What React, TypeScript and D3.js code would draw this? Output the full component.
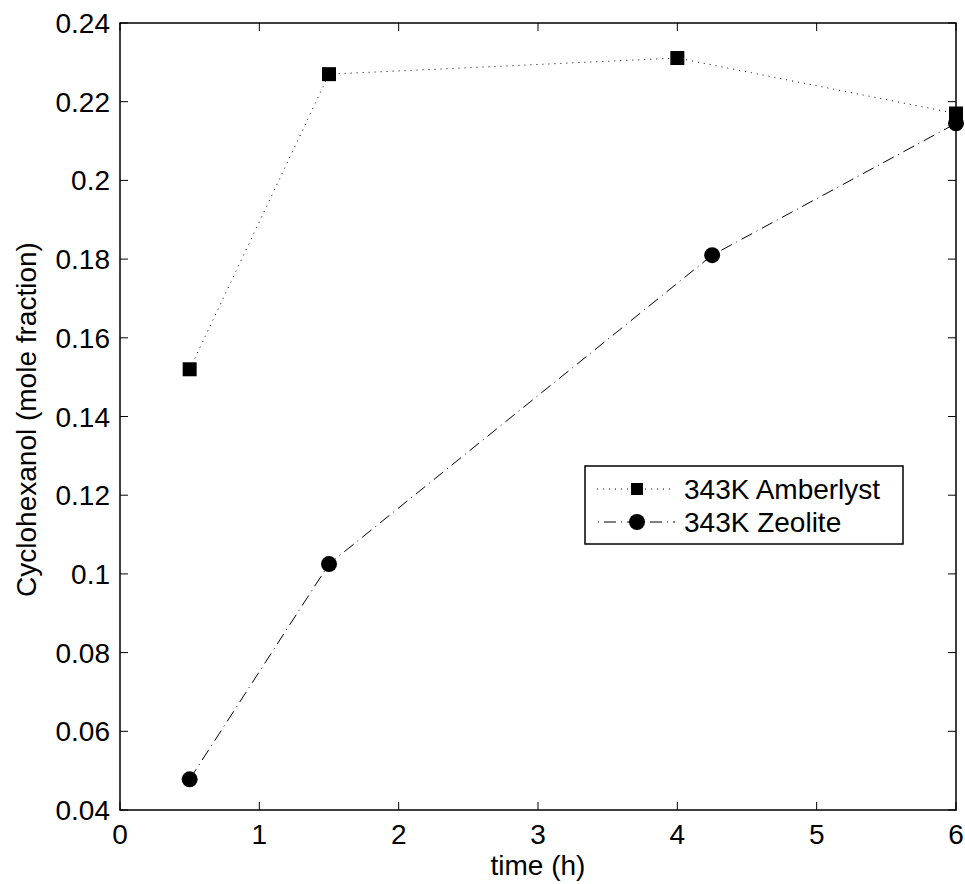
import React, { useEffect, useRef } from "react";
import * as d3 from "d3";

const amberTime = [0.5, 1.5, 4, 6];
const amberValues = [0.152, 0.227, 0.2311, 0.217];
const zeoTime = [0.5, 1.5, 4.25, 6];
const zeoValues = [0.0478, 0.1025, 0.181, 0.2145];
const xTicks = [0, 1, 2, 3, 4, 5, 6];
const yTicks = [0.04, 0.06, 0.08, 0.1, 0.12, 0.14, 0.16, 0.18, 0.2, 0.22, 0.24];
const seriesNames = ["343K Amberlyst", "343K Zeolite"];

const App = () => {
  const ref = useRef<SVGSVGElement>(null);

  useEffect(() => {
    const width = 965;
    const height = 884;
    const margin = { top: 23, right: 8, bottom: 74, left: 120 };
    const font = "Liberation Sans, Arial, Helvetica, sans-serif";
    const fs = "28px";

    const svg = d3.select(ref.current);
    svg.selectAll("*").remove();
    svg.attr("width", width).attr("height", height);

    const x = d3.scaleLinear().domain([0, 6]).range([margin.left, width - margin.right - 1]);
    const y = d3.scaleLinear().domain([0.04, 0.24]).range([height - margin.bottom, margin.top]);

    const fmt = (v: number) => String(+v.toFixed(2));

    // box
    svg.append("rect").attr("x", x(0)).attr("y", y(0.24))
      .attr("width", x(6) - x(0)).attr("height", y(0.04) - y(0.24))
      .attr("fill", "none").attr("stroke", "black").attr("stroke-width", 1.5);

    // inward ticks on all four sides
    const tl = 8;
    const ax = svg.append("g").attr("stroke", "black").attr("stroke-width", 1);
    xTicks.forEach(t => {
      ax.append("line").attr("x1", x(t)).attr("x2", x(t)).attr("y1", y(0.04)).attr("y2", y(0.04) - tl);
      ax.append("line").attr("x1", x(t)).attr("x2", x(t)).attr("y1", y(0.24)).attr("y2", y(0.24) + tl);
    });
    yTicks.forEach(t => {
      ax.append("line").attr("x1", x(0)).attr("x2", x(0) + tl).attr("y1", y(t)).attr("y2", y(t));
      ax.append("line").attr("x1", x(6)).attr("x2", x(6) - tl).attr("y1", y(t)).attr("y2", y(t));
    });

    svg.append("g").selectAll("text").data(xTicks).join("text")
      .attr("x", d => x(d)).attr("y", y(0.04) + 34)
      .attr("text-anchor", "middle").style("font-family", font).style("font-size", fs)
      .text(d => fmt(d));

    svg.append("g").selectAll("text").data(yTicks).join("text")
      .attr("x", x(0) - 10).attr("y", d => y(d) + 10)
      .attr("text-anchor", "end").style("font-family", font).style("font-size", fs)
      .text(d => fmt(d));

    svg.append("text").attr("x", (x(0) + x(6)) / 2).attr("y", 875)
      .attr("text-anchor", "middle").style("font-family", font).style("font-size", fs)
      .text("time (h)");

    svg.append("text").attr("transform", `translate(36, ${(y(0.04) + y(0.24)) / 2 + 3}) rotate(-90)`)
      .attr("text-anchor", "middle").style("font-family", font).style("font-size", fs)
      .text("Cyclohexanol (mole fraction)");

    const line = d3.line<[number, number]>().x(d => x(d[0])).y(d => y(d[1]));
    const amber = amberTime.map((t, i) => [t, amberValues[i]] as [number, number]);
    const zeo = zeoTime.map((t, i) => [t, zeoValues[i]] as [number, number]);

    const dotted = "1,5";
    const dashDot = "12,5,1,5";

    svg.append("path").datum(amber).attr("d", line).attr("fill", "none")
      .attr("stroke", "black").attr("stroke-width", 1).attr("stroke-dasharray", dotted);
    svg.append("path").datum(zeo).attr("d", line).attr("fill", "none")
      .attr("stroke", "black").attr("stroke-width", 1).attr("stroke-dasharray", dashDot);

    const sq = 14;
    svg.append("g").selectAll("rect").data(amber).join("rect")
      .attr("x", d => x(d[0]) - sq / 2).attr("y", d => y(d[1]) - sq / 2)
      .attr("width", sq).attr("height", sq).attr("fill", "black");
    svg.append("g").selectAll("circle").data(zeo).join("circle")
      .attr("cx", d => x(d[0])).attr("cy", d => y(d[1])).attr("r", 8).attr("fill", "black");

    // legend
    const lg = svg.append("g");
    lg.append("rect").attr("x", 585).attr("y", 466).attr("width", 318).attr("height", 78)
      .attr("fill", "white").attr("stroke", "black").attr("stroke-width", 1.5);
    const rows = [489, 522];
    rows.forEach((ry, i) => {
      lg.append("line").attr("x1", 597).attr("x2", 675).attr("y1", ry).attr("y2", ry)
        .attr("stroke", "black").attr("stroke-width", 1)
        .attr("stroke-dasharray", i === 0 ? dotted : dashDot)
        .attr("stroke-dashoffset", i === 0 ? 0 : 16);
      if (i === 0) {
        lg.append("rect").attr("x", 637 - 6).attr("y", ry - 6).attr("width", 12).attr("height", 12).attr("fill", "black");
      } else {
        lg.append("circle").attr("cx", 637).attr("cy", ry).attr("r", 8).attr("fill", "black");
      }
      lg.append("text").attr("x", 684).attr("y", ry + 10)
        .style("font-family", font).style("font-size", fs).text(seriesNames[i]);
    });
  }, []);

  return <svg ref={ref} style={{ position: "absolute", left: 0, top: 0 }}></svg>;
};

export default App;
